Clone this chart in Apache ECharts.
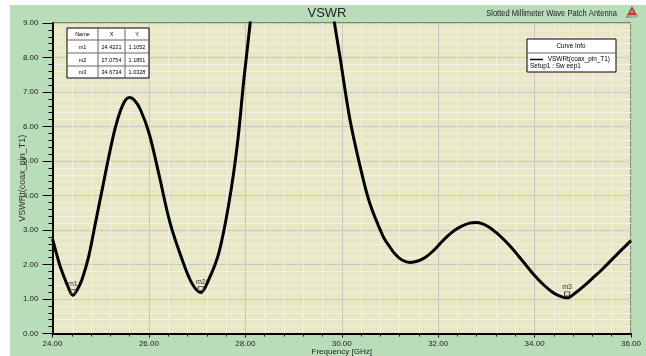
<!DOCTYPE html>
<html>
<head>
<meta charset="utf-8">
<script src="https://cdn.jsdelivr.net/npm/echarts@6/dist/echarts.min.js"></script>
<style>
html,body{margin:0;padding:0;background:#fff;}
#bg{position:absolute;left:10px;top:5px;width:636px;height:351px;background:#B9DDB9;}
#chart{position:absolute;left:0;top:0;width:646px;height:356px;}
</style>
</head>
<body>
<div id="bg"></div>
<div id="chart"></div>
<script>
// ---- data ----
const freq = [24.0, 24.08, 24.16, 24.24, 24.32, 24.4221, 24.51, 24.61, 24.75, 24.89, 25.03, 25.17, 25.3, 25.42, 25.52, 25.6, 25.7, 25.82, 26.0, 26.2, 26.44, 26.69, 26.89, 27.0754, 27.24, 27.45, 27.66, 27.83, 27.97, 28.1, 28.3, 28.6, 29.0, 29.4, 29.65, 29.85, 29.96, 30.17, 30.38, 30.58, 30.86, 31.0, 31.12, 31.25, 31.42, 31.58, 31.73, 31.9, 32.05, 32.2, 32.35, 32.5, 32.65, 32.78, 32.92, 33.06, 33.2, 33.35, 33.5, 33.67, 33.84, 34.0, 34.18, 34.35, 34.5, 34.6734, 34.85, 35.01, 35.2, 35.43, 35.7, 36.0];
const vswr = [2.74, 2.33, 1.94, 1.64, 1.36, 1.1052, 1.26, 1.56, 2.23, 3.2, 4.17, 5.14, 5.95, 6.5, 6.78, 6.84, 6.76, 6.5, 5.82, 4.66, 3.2, 2.14, 1.46, 1.1851, 1.56, 2.33, 3.78, 5.43, 7.37, 9.0, 11.8, 14.5, 15.5, 13.5, 11.0, 9.0, 8.05, 6.2, 4.85, 3.78, 2.81, 2.5, 2.28, 2.13, 2.06, 2.1, 2.2, 2.4, 2.62, 2.83, 3.0, 3.12, 3.2, 3.22, 3.18, 3.08, 2.93, 2.74, 2.52, 2.24, 1.95, 1.68, 1.42, 1.22, 1.1, 1.0328, 1.18, 1.36, 1.6, 1.9, 2.28, 2.69];
const markerNames = ['m1', 'm2', 'm3'];
const markerX = [24.4221, 27.0754, 34.6734];
const markerY = [1.1052, 1.1851, 1.0328];
const titleText = 'VSWR';
const subtitleText = 'Slotted Millimeter Wave Patch Antenna';
const xName = 'Frequency [GHz]';
const yName = 'VSWRt(coax_pin_T1)';
const curveName = 'VSWRt(coax_pin_T1)';
const sweepName = 'Setup1 : Sw eep1';

const FONT = 'Liberation Sans';
const chart = echarts.init(document.getElementById('chart'), null, {renderer: 'canvas'});

function txt(s, x, y, size, align, color, sx) {
  return {type: 'text', x: x, y: y, scaleX: sx || 1, z: 10,
    style: {text: s, x: 0, y: 0, align: align || 'center', verticalAlign: 'middle', font: size + 'px ' + FONT, fill: color || '#000'}};
}

// marker table graphics
const tbl = [];
const tx = 67, ty = 28, colW = [31, 27, 24], rowH = [12, 13, 13, 12];
const tW = colW.reduce((a, b) => a + b, 0), tH = rowH.reduce((a, b) => a + b, 0);
tbl.push({type: 'rect', z: 5, shape: {x: tx, y: ty, width: tW, height: tH}, style: {fill: '#fff', stroke: '#000', lineWidth: 1}});
let yy = ty;
const rows = [['Name', 'X', 'Y']].concat(markerNames.map((n, i) => [n, markerX[i].toFixed(4), markerY[i].toFixed(4)]));
rows.forEach((r, ri) => {
  let xx = tx;
  r.forEach((c, ci) => {
    tbl.push(txt(c, xx + colW[ci] / 2, yy + rowH[ri] / 2 + 0.5, 6, 'center', '#000', 0.92));
    xx += colW[ci];
  });
  yy += rowH[ri];
  if (ri < rows.length - 1) tbl.push({type: 'line', z: 6, shape: {x1: tx, y1: yy, x2: tx + tW, y2: yy}, style: {stroke: '#666', lineWidth: 1}});
});
let cx = tx;
colW.slice(0, 2).forEach(w => { cx += w; tbl.push({type: 'line', z: 6, shape: {x1: cx, y1: ty, x2: cx, y2: ty + tH}, style: {stroke: '#666', lineWidth: 1}}); });

const option = {
  backgroundColor: 'transparent',
  animation: false,
  grid: {left: 52.5, right: 15, top: 23, bottom: 22.5, show: true, outerBoundsMode: 'none', containLabel: false, backgroundColor: '#E8E8C6', borderColor: '#333', borderWidth: 1},
  xAxis: {
    type: 'value', min: 24, max: 36, interval: 2,
    name: xName, nameLocation: 'middle', nameGap: 18, nameMoveOverlap: false,
    nameTextStyle: {fontFamily: FONT, fontSize: 8, color: '#222', verticalAlign: 'middle'},
    axisLine: {show: true, onZero: false, lineStyle: {color: '#000', width: 2}},
    axisTick: {show: true, length: 4, lineStyle: {color: '#000', width: 1}},
    minorTick: {show: true, splitNumber: 5, length: 3, lineStyle: {color: '#000'}},
    axisLabel: {fontFamily: FONT, fontSize: 8, color: '#222', margin: 6, formatter: v => v.toFixed(2)},
    splitLine: {show: true, lineStyle: {color: '#C8C8C0', width: 1}},
    minorSplitLine: {show: true, lineStyle: {color: '#F2F2E4', width: 1}}
  },
  yAxis: {
    type: 'value', min: 0, max: 9, interval: 1,
    name: yName, nameLocation: 'middle', nameGap: 30, nameRotate: 90, nameMoveOverlap: false,
    nameTextStyle: {fontFamily: FONT, fontSize: 9, color: '#333', verticalAlign: 'middle'},
    axisLine: {show: true, onZero: false, lineStyle: {color: '#000', width: 2}},
    axisTick: {show: true, length: 10, lineStyle: {color: '#000', width: 1}},
    minorTick: {show: true, splitNumber: 5, length: 4, lineStyle: {color: '#000'}},
    axisLabel: {fontFamily: FONT, fontSize: 8, color: '#222', margin: 14, formatter: v => v.toFixed(2)},
    splitLine: {show: true, lineStyle: {color: '#C8C8C0', width: 1}},
    minorSplitLine: {show: true, lineStyle: {color: '#F2F2E4', width: 1}}
  },
  series: [{
    type: 'line', name: curveName,
    data: freq.map((f, i) => [f, vswr[i]]),
    smooth: 0.35, showSymbol: false, clip: true,
    lineStyle: {color: '#000', width: 3},
    markPoint: {
      symbol: 'rect', symbolSize: [5, 4],
      itemStyle: {color: 'rgba(0,0,0,0)', borderColor: '#444', borderWidth: 1},
      label: {show: true, position: 'top', distance: 1, formatter: p => p.name, fontFamily: FONT, fontSize: 7, color: '#333'},
      data: markerNames.map((n, i) => ({name: n, coord: [markerX[i], markerY[i]], symbolOffset: [0, -4]}))
    }
  }],
  graphic: {elements: [
    txt(titleText, 327, 13, 13, 'center', '#222', 1),
    txt(subtitleText, 617, 13.5, 9, 'right', '#222', 0.84),
    {type: 'polygon', shape: {points: [[632, 6], [627, 15], [637, 15]]}, style: {fill: '#C83A3A'}},
    {type: 'polygon', shape: {points: [[632, 9], [630, 13], [634, 13]]}, style: {fill: '#999'}},
    txt('ANSOFT', 632, 17.5, 3, 'center', '#555', 1),
    // curve info box
    {type: 'rect', z: 5, shape: {x: 527, y: 39, width: 89, height: 33}, style: {fill: '#fff', stroke: '#000', lineWidth: 1}},
    txt('Curve Info', 571, 46.5, 7, 'center', '#000', 0.9),
    {type: 'line', z: 6, shape: {x1: 527, y1: 53, x2: 616, y2: 53}, style: {stroke: '#666', lineWidth: 1}},
    {type: 'line', z: 6, shape: {x1: 530, y1: 59.5, x2: 543, y2: 59.5}, style: {stroke: '#000', lineWidth: 1.5}},
    txt(curveName, 610, 59.5, 7, 'right', '#000', 0.92),
    txt(sweepName, 530, 66.5, 7, 'left', '#000', 0.92)
  ].concat(tbl)}
};
chart.setOption(option);
</script>
</body>
</html>
